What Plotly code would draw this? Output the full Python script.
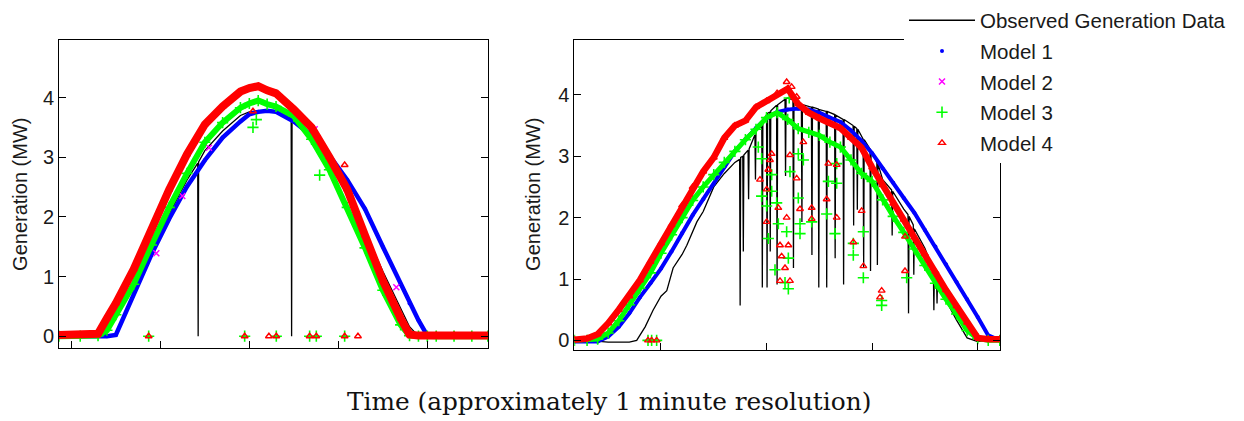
import plotly.graph_objects as go

# ---------------- Left panel (day 1), time in minutes ----------------
L_T = [172, 220, 260, 280, 300, 340, 380, 420, 460, 500, 540, 580, 600, 620, 640,
       660, 700, 740, 780, 820, 860, 900, 940, 960, 980, 1000, 1020, 1060, 1100, 1136]
L_M1 = [0, 0, 0, 0, 0.02, 0.71, 1.37, 1.97, 2.51, 2.95, 3.33, 3.6, 3.72, 3.76, 3.78,
        3.76, 3.6, 3.36, 3.03, 2.62, 2.13, 1.5, 0.87, 0.55, 0.27, 0.01, 0, 0, 0, 0]
L_M3 = [0, 0, 0.01, 0.1, 0.36, 0.87, 1.53, 2.16, 2.73, 3.25, 3.58, 3.83, 3.9, 3.95, 3.89,
        3.85, 3.69, 3.3, 2.79, 2.16, 1.48, 0.77, 0.19, 0.01, 0, 0, 0, 0, 0, 0]
L_M4 = [0.02, 0.02, 0.04, 0.3, 0.55, 1.12, 1.8, 2.46, 3.05, 3.55, 3.85, 4.1, 4.16, 4.19, 4.12,
        4.07, 3.8, 3.5, 3.0, 2.46, 1.69, 0.93, 0.3, 0.03, 0.01, 0.01, 0.02, 0.02, 0.01, 0.01]

L_OBS_T = [172, 260, 300, 340, 380, 420, 460, 484, 485, 486, 500, 540, 580, 600, 620, 640,
           660, 694, 695, 696, 700, 740, 780, 820, 860, 900, 940, 960, 980, 1136]
L_OBS_V = [0, 0, 0, 0.66, 1.42, 2.05, 2.62, 2.9, 0, 2.92, 3.11, 3.44, 3.7, 3.76, 3.78, 3.78,
           3.76, 3.66, 0, 3.65, 3.63, 3.36, 2.95, 2.38, 1.75, 1.09, 0.46, 0.16, 0, 0]

L_M2_T = [391, 449.4, 509.3, 746.8, 930.3]
L_M2_V = [1.39, 2.35, 3.16, 3.47, 0.82]
L_M3_OUT_T = [373.8, 589.5, 660.6, 735.5, 750.5, 814.2, 608.2, 615.7, 758]
L_M3_OUT_V = [0, 0, 0, 0, 0, 0, 3.5, 3.63, 2.7]
L_M4_OUT_T = [373.8, 589.5, 644, 660.6, 735.5, 750.5, 814.2, 844.1, 814.2, 608.2]
L_M4_OUT_V = [0, 0, 0, 0, 0, 0, 0, 0, 2.87, 3.77]

# ---------------- Right panel (day 2) ----------------
R_T = [236, 260, 280, 300, 320, 340, 360, 380, 400, 420, 440, 460, 480, 500, 520, 540,
       560, 580, 600, 620, 640, 660, 680, 700, 720, 740, 760, 780, 800, 820, 840, 860,
       880, 900, 920, 940, 960, 980, 1000, 1020, 1042]
R_M1 = [-0.02, -0.02, -0.02, 0.06, 0.22, 0.44, 0.7, 0.93, 1.17, 1.45, 1.75, 2.04, 2.3,
        2.55, 2.82, 3.08, 3.28, 3.46, 3.62, 3.72, 3.76, 3.78, 3.76, 3.71, 3.63, 3.56, 3.42,
        3.25, 3.05, 2.8, 2.57, 2.32, 2.08, 1.8, 1.53, 1.24, 0.95, 0.67, 0.38, 0.08, 0.0]
R_M3 = [0, 0, 0.02, 0.12, 0.32, 0.58, 0.85, 1.1, 1.42, 1.72, 2.0, 2.28, 2.5, 2.7, 2.9,
        3.08, 3.27, 3.44, 3.63, 3.71, 3.6, 3.45, 3.39, 3.34, 3.23, 3.15, 2.94, 2.72, 2.59,
        2.29, 2.02, 1.76, 1.49, 1.22, 0.93, 0.67, 0.43, 0.16, 0.03, 0, 0]
R_M4 = [0.01, 0.03, 0.1, 0.28, 0.5, 0.72, 0.98, 1.28, 1.58, 1.88, 2.2, 2.5, 2.75, 2.98,
        3.3, 3.5, 3.58, 3.8, 3.9, 4.03, 4.1, 3.85, 3.71, 3.62, 3.54, 3.46, 3.3, 3.14, 2.82,
        2.53, 2.23, 1.97, 1.68, 1.41, 1.12, 0.82, 0.56, 0.29, 0.04, 0.02, 0.02]

R_OBS_T = [236, 260, 300, 340, 354, 370, 385, 400, 411, 423, 440, 449, 468, 480, 500, 520, 540,
           549, 550, 551, 555, 556, 557, 565, 566, 567, 578, 579, 580, 591, 592, 593,
           600, 601, 602, 606, 607, 608, 619, 620, 621, 635, 636, 637, 640, 650, 651, 652,
           660, 666, 667, 668, 685, 686, 687, 698, 699, 700, 713, 714, 715, 729, 730, 731,
           745, 746, 747, 764, 765, 766, 771, 772, 773, 783, 784, 785, 796, 797, 798,
           809, 810, 811, 820, 837, 838, 839, 860, 868, 869, 870, 878, 879, 880, 900,
           916, 917, 918, 920, 922, 923, 924, 940, 960, 980, 1000, 1020, 1042]
R_OBS_V = [0, 0, -0.03, -0.03, 0.0, 0.22, 0.49, 0.72, 0.81, 1.18, 1.4, 1.55, 1.93, 2.1, 2.5, 2.72, 2.9,
           2.95, 0.57, 2.98, 3.0, 1.45, 3.02, 3.1, 2.3, 3.12, 3.35, 2.62, 3.41, 3.5, 0.86, 3.55,
           3.68, 0.86, 3.7, 3.72, 1.45, 3.74, 3.83, 0.91, 3.84, 3.93, 2.68, 3.94, 3.95, 3.92, 1.18, 3.9,
           3.87, 3.85, 1.93, 3.84, 3.8, 1.39, 3.8, 3.77, 0.86, 3.76, 3.73, 0.86, 3.73, 3.68, 1.34, 3.67,
           3.6, 0.91, 3.6, 3.5, 1.87, 3.49, 3.45, 2.13, 3.44, 3.28, 1.18, 3.27, 3.12, 1.13, 3.1,
           2.9, 1.23, 2.88, 2.62, 2.45, 1.71, 2.43, 2.14, 2.05, 0.44, 2.02, 1.88, 1.07, 1.82, 1.5,
           1.15, 0.49, 1.12, 1.07, 1.05, 0.6, 1.02, 0.65, 0.33, 0.04, -0.02, 0, 0]

R_M3_OUT_T = [584.4, 590.7, 609.7, 609.7, 590.7, 600.2, 622.3, 638.1, 603.4, 641.3, 616.0,
              635.0, 641.3, 663.4, 685.5, 660.2, 644.4, 660.2, 669.7, 717.1, 732.9, 729.7,
              713.9, 732.9, 764.4, 764.4, 783.4, 783.4, 818.1, 818.1, 865.5, 663.4, 619.2,
              643.0, 375.4, 382.3, 391.8]
R_M3_OUT_V = [3.15, 2.96, 2.7, 2.43, 2.35, 2.19, 1.9, 1.77, 1.66, 1.34, 1.15,
              0.94, 0.84, 1.9, 1.93, 2.32, 2.75, 3.04, 2.94, 2.59, 2.56, 1.74,
              2.06, 2.88, 1.39, 1.58, 1.77, 1.02, 0.65, 0.57, 1.02, 1.74, 2.24,
              3.95, 0, 0, 0]
R_M4_OUT_T = [587.6, 603.4, 606.5, 609.7, 600.2, 600.2, 622.3, 638.1, 625.5, 628.6, 641.3,
              635.0, 644.4, 625.5, 644.4, 657.1, 663.4, 669.7, 685.5, 685.5, 713.9, 717.1,
              732.9, 732.9, 764.4, 780.2, 783.4, 818.1, 815.0, 862.3, 862.3, 638.1, 647.6,
              657.1, 375.4, 382.3, 391.8]
R_M4_OUT_V = [2.62, 2.78, 2.94, 3.04, 2.46, 1.93, 2.16, 2.0, 1.55, 1.37, 1.55,
              1.18, 0.97, 0.97, 3.02, 2.64, 2.14, 3.23, 2.16, 1.98, 2.3, 2.88,
              2.86, 2.0, 1.6, 2.11, 1.21, 0.81, 0.7, 1.13, 1.69, 4.21, 4.13,
              3.97, 0, 0, 0]

NAMES = ["Observed Generation Data", "Model 1", "Model 2", "Model 3", "Model 4"]
Y_TICKS = [0, 1, 2, 3, 4]
L_X_TICKS = [200, 400, 600, 800, 1000]
R_X_TICKS = [400, 600, 800, 1000]

BLACK, BLUE, MAGENTA, GREEN, RED = "#000000", "#0000ff", "#ff00ff", "#00ff00", "#ff0000"
M1_MK = dict(symbol="circle", size=4, color=BLUE)
M2_MK = dict(symbol="x-thin", size=6, line=dict(color=MAGENTA, width=1.5), color=MAGENTA)
M3_MK = dict(symbol="cross-thin", size=8, line=dict(color=GREEN, width=1.6), color=GREEN)
M4_MK = dict(symbol="triangle-up-open", size=6, line=dict(color=RED, width=1.4), color=RED)

fig = go.Figure()


def tr(x, y, xa, ya, **kw):
    fig.add_trace(go.Scatter(x=x, y=y, xaxis=xa, yaxis=ya, showlegend=False,
                             hoverinfo="skip", **kw))


for xa, ya, OT, OV, T, M1, M3, M4, M2T, M2V, M3T, M3V, M4T, M4V, widths in [
    ("x", "y", L_OBS_T, L_OBS_V, L_T, L_M1, L_M3, L_M4, L_M2_T, L_M2_V,
     L_M3_OUT_T, L_M3_OUT_V, L_M4_OUT_T, L_M4_OUT_V, (4.5, 6, 8)),
    ("x2", "y2", R_OBS_T, R_OBS_V, R_T, R_M1, R_M3, R_M4, [], [],
     R_M3_OUT_T, R_M3_OUT_V, R_M4_OUT_T, R_M4_OUT_V, (4, 5, 6.5)),
]:
    tr(OT, OV, xa, ya, mode="lines", line=dict(color=BLACK, width=1.3))
    tr(T, M1, xa, ya, mode="lines+markers", line=dict(color=BLUE, width=widths[0]),
       marker=M1_MK)
    if M2T:
        tr(M2T, M2V, xa, ya, mode="markers", marker=M2_MK)
    tr(T, M3, xa, ya, mode="lines+markers", line=dict(color=GREEN, width=widths[1]),
       marker=M3_MK)
    tr(M3T, M3V, xa, ya, mode="markers", marker=M3_MK)
    tr(T, M4, xa, ya, mode="lines+markers", line=dict(color=RED, width=widths[2]),
       marker=M4_MK)
    tr(M4T, M4V, xa, ya, mode="markers", marker=M4_MK)

# legend entries
for i, (name, kw) in enumerate(zip(NAMES, [
        dict(mode="lines", line=dict(color=BLACK, width=1.3)),
        dict(mode="markers", marker=M1_MK),
        dict(mode="markers", marker=M2_MK),
        dict(mode="markers", marker=M3_MK),
        dict(mode="markers", marker=M4_MK)])):
    fig.add_trace(go.Scatter(x=[None], y=[None], name=name, showlegend=True,
                             legendgroup=f"g{i}", xaxis="x2", yaxis="y2", **kw))

FONT = dict(family="Liberation Sans, Arial, sans-serif", size=20, color="#1a1a1a")
LEG_FONT = dict(family="Liberation Sans, Arial, sans-serif", size=20.5, color="#1a1a1a")
ax_common = dict(showline=True, linecolor="black", linewidth=1, showgrid=False,
                 zeroline=False, ticks="inside", ticklen=7, tickcolor="black",
                 tickwidth=1)

fig.update_layout(
    width=1244, height=421, margin=dict(l=0, r=0, t=0, b=0),
    paper_bgcolor="white", plot_bgcolor="white",
    font=FONT,
    xaxis=dict(domain=[0.04743, 0.39228], range=[172.3, 1136.3], tickvals=L_X_TICKS,
               showticklabels=False, mirror=True, anchor="y", **ax_common),
    yaxis=dict(domain=[0.1734, 0.91924], range=[-0.19, 4.96], tickvals=Y_TICKS,
               mirror="ticks", anchor="x", tickfont=FONT, **ax_common),
    xaxis2=dict(domain=[0.46166, 0.80386], range=[235.8, 1042.3], tickvals=R_X_TICKS,
                showticklabels=False, mirror=True, anchor="y2", **ax_common),
    yaxis2=dict(domain=[0.16865, 0.91924], range=[-0.149, 4.89], tickvals=Y_TICKS,
                mirror="ticks", anchor="x2", tickfont=FONT, **ax_common),
    legend=dict(x=904 / 1244, y=1.016, xanchor="left", yanchor="top",
                bgcolor="white", borderwidth=0, itemwidth=66, tracegroupgap=1,
                font=LEG_FONT, itemclick=False),
    annotations=[
        dict(text="Generation (MW)", x=20 / 1244, y=1 - 192 / 421, xref="paper",
             yref="paper", showarrow=False, textangle=-90, font=FONT,
             xanchor="center", yanchor="middle"),
        dict(text="Generation (MW)", x=533 / 1244, y=1 - 192 / 421, xref="paper",
             yref="paper", showarrow=False, textangle=-90, font=FONT,
             xanchor="center", yanchor="middle"),
        dict(text="Time (approximately 1 minute resolution)", x=608.5 / 1244,
             y=1 - 403 / 421, xref="paper", yref="paper", showarrow=False,
             font=dict(family="DejaVu Serif, serif", size=24.8, color="#111111"),
             xanchor="center", yanchor="middle"),
    ],
)

fig.write_html("out.html", config={"displayModeBar": False, "staticPlot": True},
               post_script="document.body.style.margin='0';document.body.style.padding='0';")
